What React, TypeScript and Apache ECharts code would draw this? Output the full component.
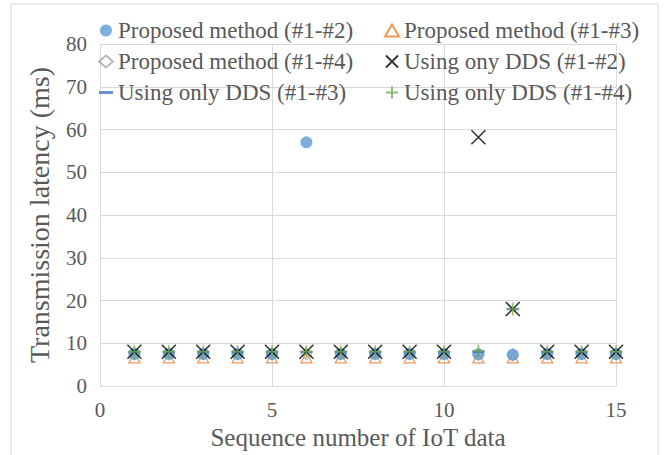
import React, { useEffect, useRef } from "react";
import * as echarts from "echarts";

const seq = [1, 2, 3, 4, 5, 6, 7, 8, 9, 10, 11, 12, 13, 14, 15];
const proposed12 = [7.5, 7.5, 7.5, 7.5, 7.5, 57, 7.5, 7.5, 7.5, 7.5, 7.4, 7.3, 7.5, 7.5, 7.5];
const proposed13 = [6.6, 6.6, 6.6, 6.6, 6.6, 6.6, 6.6, 6.6, 6.6, 6.6, 6.6, 6.6, 6.6, 6.6, 6.6];
const proposed14 = [7.5, 7.5, 7.5, 7.5, 7.5, 7.5, 7.5, 7.5, 7.5, 7.5, 7.4, 7.3, 7.5, 7.5, 7.5];
const dds12 = [8, 8, 8, 8, 8, 8, 8, 8, 8, 8, 58.2, 18, 8, 8, 8];
const dds13 = [8, 8, 8, 8, 8, 8, 8, 8, 8, 8, 8, 18, 8, 8, 8];
const dds14 = [8, 8, 8, 8, 8, 8, 8, 8, 8, 8, 8.2, 18, 8, 8, 8];

const names = [
  "Proposed method (#1-#2)",
  "Proposed method (#1-#3)",
  "Proposed method (#1-#4)",
  "Using ony DDS (#1-#2)",
  "Using only DDS (#1-#3)",
  "Using only DDS (#1-#4)",
];

const FONT = "'Liberation Serif', 'Times New Roman', serif";
const TXT = "#595959";

const pair = (vals: number[]) => seq.map((s, i) => [s, vals[i]]);

export default function App() {
  const ref = useRef<HTMLDivElement>(null);
  useEffect(() => {
    document.body.style.margin = "0";
    const chart = echarts.init(ref.current!, undefined, { renderer: "svg" });
    const legendText = { fontFamily: FONT, fontSize: 23, color: TXT };
    const dashIcon = "path://M0,0L12,0L12,2.5L0,2.5Z";
    chart.setOption({
      animation: false,
      backgroundColor: "#fff",
      graphic: [
        {
          type: "rect",
          shape: { x: 11, y: 4, width: 647, height: 460 },
          style: { fill: "none", stroke: "#d9d9d9", lineWidth: 1 },
          silent: true,
        },
      ],
      grid: { left: 100, right: 51, top: 44, bottom: 69 },
      legend: [
        {
          orient: "vertical",
          left: 93,
          top: 14,
          itemGap: 8,
          itemWidth: 14,
          itemHeight: 12,
          textStyle: legendText,
          data: [names[0], names[2], { name: names[4], icon: dashIcon }],
        },
        {
          orient: "vertical",
          left: 379,
          top: 14,
          itemGap: 8,
          itemWidth: 14,
          itemHeight: 12,
          textStyle: legendText,
          data: [names[1], names[3], names[5]],
        },
      ],
      xAxis: {
        type: "value",
        min: 0,
        max: 15,
        interval: 5,
        name: "Sequence number of IoT data",
        nameLocation: "middle",
        nameGap: 38,
        nameTextStyle: { fontFamily: FONT, fontSize: 25, color: TXT },
        axisLine: { show: true, lineStyle: { color: "#d9d9d9", width: 1 } },
        axisTick: { show: false },
        axisLabel: { fontFamily: FONT, fontSize: 21, color: TXT, margin: 13 },
        splitLine: { show: true, lineStyle: { color: "#d9d9d9", width: 1 } },
      },
      yAxis: {
        type: "value",
        min: 0,
        max: 80,
        interval: 10,
        name: "Transmission latency (ms)",
        nameLocation: "middle",
        nameGap: 47,
        nameTextStyle: { fontFamily: FONT, fontSize: 28, color: TXT },
        axisLine: { show: true, lineStyle: { color: "#d9d9d9", width: 1 } },
        axisTick: { show: false },
        axisLabel: { fontFamily: FONT, fontSize: 21, color: TXT, margin: 13 },
        splitLine: { show: true, lineStyle: { color: "#d9d9d9", width: 1 } },
      },
      series: [
        {
          name: names[0],
          type: "scatter",
          data: pair(proposed12),
          symbol: "circle",
          symbolSize: 12,
          itemStyle: { color: "#5b9bd5" },
          z: 2,
        },
        {
          name: names[1],
          type: "scatter",
          data: pair(proposed13),
          symbol: "triangle",
          symbolSize: [11, 10],
          itemStyle: { color: "rgba(255,255,255,0)", borderColor: "#ed7d31", borderWidth: 1.3 },
          z: 1,
        },
        {
          name: names[2],
          type: "scatter",
          data: pair(proposed14),
          symbol: "diamond",
          symbolSize: [11, 12],
          itemStyle: { color: "rgba(255,255,255,0)", borderColor: "#a5a5a5", borderWidth: 1.2 },
          z: 1,
        },
        {
          name: names[3],
          type: "scatter",
          data: pair(dds12),
          symbol: "path://M0,0L10,10M10,0L0,10",
          symbolSize: 14,
          itemStyle: { color: "rgba(0,0,0,0)", borderColor: "#000000", borderWidth: 1.6 },
          z: 4,
        },
        {
          name: names[4],
          type: "scatter",
          data: pair(dds13),
          symbol: "rect",
          symbolSize: [12, 2.5],
          itemStyle: { color: "#4472c4" },
          z: 3,
        },
        {
          name: names[5],
          type: "scatter",
          data: pair(dds14),
          symbol: "path://M5,0L5,10M0,5L10,5",
          symbolSize: 13,
          itemStyle: { color: "rgba(0,0,0,0)", borderColor: "#70ad47", borderWidth: 1.5 },
          z: 5,
        },
      ],
    });
    return () => chart.dispose();
  }, []);
  return <div ref={ref} style={{ width: 667, height: 455 }} />;
}
